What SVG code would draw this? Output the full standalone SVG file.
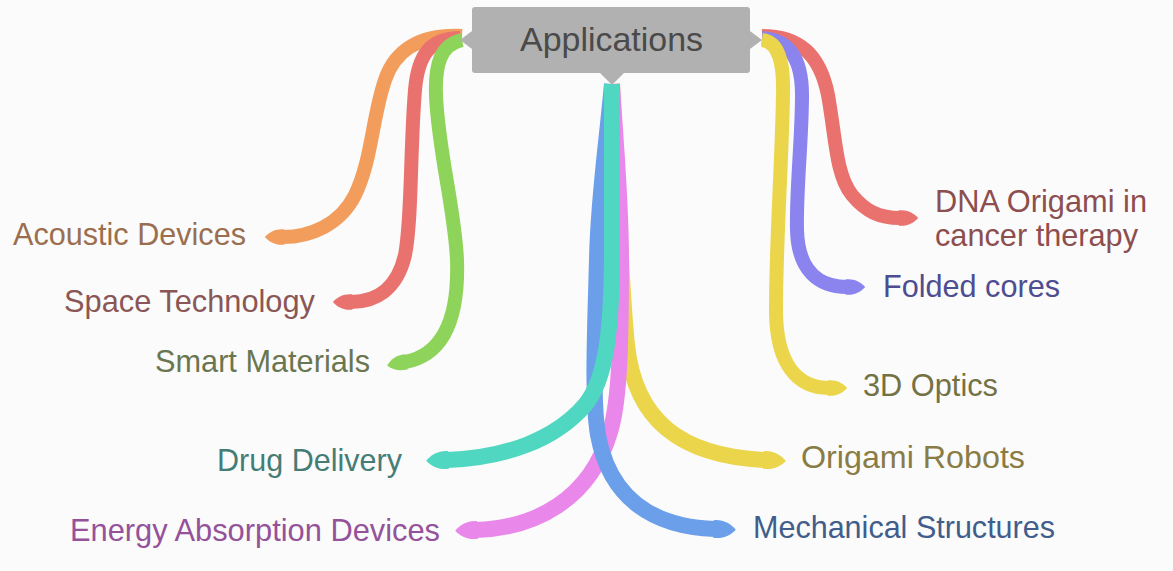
<svg xmlns="http://www.w3.org/2000/svg" width="1173" height="571" viewBox="0 0 1173 571">
  <defs>
    <style>
      .branch { fill: none; stroke-width: 14; stroke-linecap: butt; stroke-linejoin: round; }
      .stem { stroke-width: 16; }
      .label { font-family: "Liberation Sans", Arial, sans-serif; font-size: 30.5px; }
      .title { font-family: "Liberation Sans", Arial, sans-serif; font-size: 33px; fill: #4a4a4a; }
      .hub { fill: #b1b1b1; }
    </style>
    <!-- pointed tips at the outer end of each branch, one per colour -->
    <marker id="tip-orange" viewBox="-0.2 -1 2 2" refX="0" refY="0" markerWidth="2" markerHeight="2" markerUnits="strokeWidth" orient="auto">
      <path d="M-0.1,-0.55 C0.5,-0.62 1.0,-0.35 1.3,0 C1.0,0.35 0.5,0.62 -0.1,0.55 Z" fill="#f29d5c"/>
    </marker>
    <marker id="tip-red" viewBox="-0.2 -1 2 2" refX="0" refY="0" markerWidth="2" markerHeight="2" markerUnits="strokeWidth" orient="auto">
      <path d="M-0.1,-0.55 C0.5,-0.62 1.0,-0.35 1.3,0 C1.0,0.35 0.5,0.62 -0.1,0.55 Z" fill="#e9726f"/>
    </marker>
    <marker id="tip-green" viewBox="-0.2 -1 2 2" refX="0" refY="0" markerWidth="2" markerHeight="2" markerUnits="strokeWidth" orient="auto">
      <path d="M-0.1,-0.55 C0.5,-0.62 1.0,-0.35 1.3,0 C1.0,0.35 0.5,0.62 -0.1,0.55 Z" fill="#8fd45a"/>
    </marker>
    <marker id="tip-teal" viewBox="-0.2 -1 2 2" refX="0" refY="0" markerWidth="2" markerHeight="2" markerUnits="strokeWidth" orient="auto">
      <path d="M-0.1,-0.55 C0.5,-0.62 1.0,-0.35 1.3,0 C1.0,0.35 0.5,0.62 -0.1,0.55 Z" fill="#4fd7c1"/>
    </marker>
    <marker id="tip-pink" viewBox="-0.2 -1 2 2" refX="0" refY="0" markerWidth="2" markerHeight="2" markerUnits="strokeWidth" orient="auto">
      <path d="M-0.1,-0.55 C0.5,-0.62 1.0,-0.35 1.3,0 C1.0,0.35 0.5,0.62 -0.1,0.55 Z" fill="#e987ea"/>
    </marker>
    <marker id="tip-blue" viewBox="-0.2 -1 2 2" refX="0" refY="0" markerWidth="2" markerHeight="2" markerUnits="strokeWidth" orient="auto">
      <path d="M-0.1,-0.55 C0.5,-0.62 1.0,-0.35 1.3,0 C1.0,0.35 0.5,0.62 -0.1,0.55 Z" fill="#6b9fe9"/>
    </marker>
    <marker id="tip-yellow" viewBox="-0.2 -1 2 2" refX="0" refY="0" markerWidth="2" markerHeight="2" markerUnits="strokeWidth" orient="auto">
      <path d="M-0.1,-0.55 C0.5,-0.62 1.0,-0.35 1.3,0 C1.0,0.35 0.5,0.62 -0.1,0.55 Z" fill="#ebd54b"/>
    </marker>
    <marker id="tip-purple" viewBox="-0.2 -1 2 2" refX="0" refY="0" markerWidth="2" markerHeight="2" markerUnits="strokeWidth" orient="auto">
      <path d="M-0.1,-0.55 C0.5,-0.62 1.0,-0.35 1.3,0 C1.0,0.35 0.5,0.62 -0.1,0.55 Z" fill="#8b83ee"/>
    </marker>
  </defs>

  <rect width="1173" height="571" fill="#fbfbfb"/>

  <!-- branches from the hub to every application -->
  <g id="connectors">
    <!-- left group -->
    <path class="branch" stroke="#f29d5c" marker-end="url(#tip-orange)" d="M462,36 C420,34 395,50 385,80 C372,118 372,160 355,195 C340,225 310,237 283,237"/>
    <path class="branch" stroke="#e9726f" marker-end="url(#tip-red)" d="M460,38 C430,38 418,55 415,90 C410,150 412,220 405,255 C397,290 375,302 351,302"/>
    <path class="branch" stroke="#8fd45a" marker-end="url(#tip-green)" d="M462,40 C440,45 435,65 436,95 C438,150 455,210 457,260 C459,320 442,355 405,362"/>
    <!-- right group -->
    <path class="branch" stroke="#e9726f" marker-end="url(#tip-red)" d="M762,36 C800,36 820,55 828,95 C836,140 836,175 852,195 C866,212 880,218 900,218"/>
    <path class="branch" stroke="#8b83ee" marker-end="url(#tip-purple)" d="M762,38 C790,40 802,60 802,95 C802,140 796,190 797,230 C798,270 818,287 847,287"/>
    <path class="branch" stroke="#ebd54b" marker-end="url(#tip-yellow)" d="M762,40 C778,42 784,60 783,95 C782,160 776,240 776,310 C776,365 798,388 829,388"/>
    <!-- lower group -->
    <path class="branch stem" stroke="#ebd54b" marker-end="url(#tip-yellow)" d="M612,84 C618,200 622,300 627,345 C635,420 680,456 765,460"/>
    <path class="branch stem" stroke="#e987ea" marker-end="url(#tip-pink)" d="M612,84 C616,150 621,200 621,260 C621,340 620,400 610,432 C590,500 535,528 476,530"/>
    <path class="branch stem" stroke="#6b9fe9" marker-end="url(#tip-blue)" d="M612,84 C606,150 598,200 597,260 C595,330 592,400 598,435 C610,500 655,527 715,529"/>
    <path class="branch stem" stroke="#4fd7c1" stroke-width="19" marker-end="url(#tip-teal)" d="M612,84 L612,250 C612,330 606,380 585,405 C555,440 505,458 447,460"/>
  </g>

  <!-- central topic -->
  <g id="node-applications">
    <rect class="hub" x="472" y="7" width="278" height="66" rx="3"/>
    <path class="hub" d="M472,31 L460,40 L472,49 Z"/>
    <path class="hub" d="M750,31 L762,40 L750,49 Z"/>
    <path class="hub" d="M600,73 L612,85 L624,73 Z"/>
    <text class="title" x="520" y="51" textLength="183" lengthAdjust="spacingAndGlyphs">Applications</text>
  </g>

  <g id="node-acoustic-devices">
    <text class="label" x="13" y="245" fill="#9a6e4e" textLength="233" lengthAdjust="spacingAndGlyphs">Acoustic Devices</text>
  </g>
  <g id="node-space-technology">
    <text class="label" x="64" y="312" fill="#8a5656" textLength="251" lengthAdjust="spacingAndGlyphs">Space Technology</text>
  </g>
  <g id="node-smart-materials">
    <text class="label" x="155" y="372" fill="#6a7650" textLength="215" lengthAdjust="spacingAndGlyphs">Smart Materials</text>
  </g>
  <g id="node-drug-delivery">
    <text class="label" x="217" y="471" fill="#457d76" textLength="185" lengthAdjust="spacingAndGlyphs">Drug Delivery</text>
  </g>
  <g id="node-energy-absorption-devices">
    <text class="label" x="70" y="541" fill="#94529a" textLength="370" lengthAdjust="spacingAndGlyphs">Energy Absorption Devices</text>
  </g>
  <g id="node-dna-origami">
    <text class="label" x="935" y="212" fill="#8c4e4e" textLength="212" lengthAdjust="spacingAndGlyphs">DNA Origami in</text>
    <text class="label" x="935" y="246" fill="#8c4e4e" textLength="203" lengthAdjust="spacingAndGlyphs">cancer therapy</text>
  </g>
  <g id="node-folded-cores">
    <text class="label" x="883" y="297" fill="#4d4d90" textLength="177" lengthAdjust="spacingAndGlyphs">Folded cores</text>
  </g>
  <g id="node-3d-optics">
    <text class="label" x="863" y="396" fill="#737245" textLength="135" lengthAdjust="spacingAndGlyphs">3D Optics</text>
  </g>
  <g id="node-origami-robots">
    <text class="label" x="801" y="468" fill="#8a7c45" textLength="224" lengthAdjust="spacingAndGlyphs">Origami Robots</text>
  </g>
  <g id="node-mechanical-structures">
    <text class="label" x="753" y="538" fill="#415d8c" textLength="302" lengthAdjust="spacingAndGlyphs">Mechanical Structures</text>
  </g>
</svg>
